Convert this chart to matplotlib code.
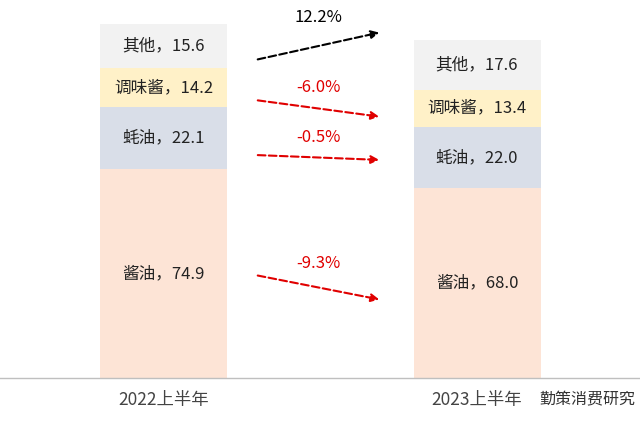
import matplotlib.pyplot as plt
from matplotlib import font_manager

# pick whatever CJK font is installed
cjk = [f for f in font_manager.findSystemFonts() if 'CJK' in f or 'cjk' in f]
if cjk:
    for f in cjk:
        font_manager.fontManager.addfont(f)
    cjk_name = font_manager.FontProperties(fname=sorted(cjk)[0]).get_name()
else:
    cjk_name = 'Noto Sans CJK SC'
plt.rcParams['font.family'] = [cjk_name, 'DejaVu Sans']

periods = ['2022上半年', '2023上半年']
segments = ['酱油', '蚝油', '调味酱', '其他']
values_2022 = [74.9, 22.1, 14.2, 15.6]
values_2023 = [68.0, 22.0, 13.4, 17.6]
growth = ['-9.3%', '-0.5%', '-6.0%', '12.2%']
colors = ['#FDE4D6', '#D9DEE8', '#FFF1C8', '#F2F2F2']

fig = plt.figure(figsize=(6.4, 4.24), dpi=100)
ax = fig.add_axes([0, 0, 1, 1])
scale = 2.79  # pixels per unit
ax.set_xlim(0, 640)
ax.set_ylim(-(424 - 378) / scale, 378 / scale)
ax.axis('off')

centers = [163.5, 477]
width = 127
for xc, vals in zip(centers, [values_2022, values_2023]):
    bottom = 0
    for name, v, c in zip(segments, vals, colors):
        ax.bar(xc, v, width, bottom=bottom, color=c)
        ax.text(xc, bottom + v / 2, f'{name}，{v}', ha='center', va='center',
                fontsize=12, color='#222222')
        bottom += v

ax.axhline(0, color='#BFBFBF', lw=1)
for xc, p in zip(centers, periods):
    ax.text(xc, -22 / scale, p, ha='center', va='center', fontsize=12.5, color='#444444')

# arrows between bars (y in pixel rows of the reference)
arrow_rows = [(275, 300), (155, 160), (100, 117), (60, 32)]
label_rows = [264, 138, 87, 17]
for (y0, y1), ly, g in zip(arrow_rows, label_rows, growth):
    col = 'black' if not g.startswith('-') else '#E00000'
    ax.annotate('', xy=(382, (378 - y1) / scale), xytext=(255, (378 - y0) / scale),
                arrowprops=dict(arrowstyle='-|>', color=col, lw=1.5, linestyle='--',
                                mutation_scale=12))
    ax.text(318, (378 - ly) / scale, g, ha='center', va='center', fontsize=12, color=col)

ax.text(635, -22 / scale, '勤策消费研究', ha='right', va='center', fontsize=11.5, color='#333333')

fig.savefig('out.png', dpi=100)
